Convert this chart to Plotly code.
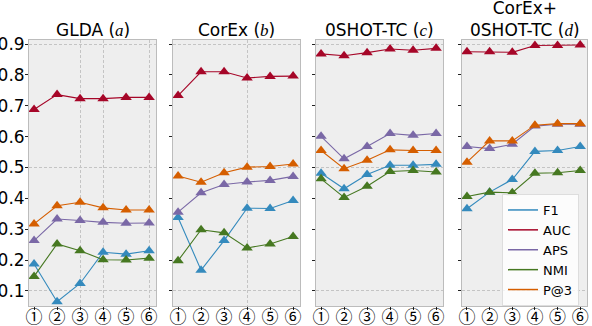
import plotly.graph_objects as go

# x positions (circled labels) and panel titles
steps = [1, 2, 3, 4, 5, 6]
step_labels = ["①", "②", "③", "④", "⑤", "⑥"]
it = '<span style="font-family:Liberation Serif;font-style:italic">%s</span>'
panel_titles = [
    "GLDA (" + it % "a" + ")",
    "CorEx (" + it % "b" + ")",
    "0SHOT-TC (" + it % "c" + ")",
    "CorEx+<br>0SHOT-TC (" + it % "d" + ")",
]

# metric values per panel (a, b, c, d)
f1 = [
    [0.187, 0.065, 0.124, 0.225, 0.219, 0.230],
    [0.338, 0.167, 0.263, 0.368, 0.367, 0.393],
    [0.481, 0.431, 0.477, 0.507, 0.507, 0.510],
    [0.366, 0.420, 0.461, 0.552, 0.555, 0.568],
]
auc = [
    [0.688, 0.736, 0.723, 0.723, 0.727, 0.727],
    [0.733, 0.810, 0.810, 0.790, 0.795, 0.796],
    [0.868, 0.862, 0.872, 0.884, 0.880, 0.886],
    [0.875, 0.875, 0.873, 0.895, 0.895, 0.897],
]
aps = [
    [0.263, 0.333, 0.328, 0.322, 0.319, 0.320],
    [0.355, 0.418, 0.445, 0.453, 0.458, 0.471],
    [0.601, 0.528, 0.568, 0.610, 0.604, 0.610],
    [0.568, 0.561, 0.575, 0.634, 0.640, 0.640],
]
nmi = [
    [0.147, 0.252, 0.230, 0.201, 0.200, 0.206],
    [0.198, 0.298, 0.288, 0.239, 0.252, 0.276],
    [0.463, 0.403, 0.439, 0.487, 0.490, 0.485],
    [0.406, 0.420, 0.418, 0.481, 0.483, 0.490],
]
p_at_3 = [
    [0.317, 0.376, 0.387, 0.369, 0.362, 0.362],
    [0.472, 0.452, 0.483, 0.501, 0.503, 0.511],
    [0.555, 0.496, 0.523, 0.557, 0.555, 0.555],
    [0.517, 0.586, 0.586, 0.637, 0.642, 0.642],
]

# draw order and legend order
metrics = [
    ("F1", f1, "#348ABD"),
    ("AUC", auc, "#A60628"),
    ("APS", aps, "#7A68A6"),
    ("NMI", nmi, "#467821"),
    ("P@3", p_at_3, "#D55E00"),
]

# panel pixel boxes
W, H = 592, 326
panel_px = [(29, 156), (173, 300), (316, 443), (462, 587)]
top_px, bottom_px = 40, 306
# which vertical grid lines survive in each panel of the original
vgrids = [[3, 4, 6], [4], [], []]
grid_style = dict(showgrid=True, griddash="3px,2px", gridcolor="#c4c4c4",
                  gridwidth=0.7, ticks="")

fig = go.Figure()

for i in range(4):
    xa = "x" if i == 0 else f"x{i + 1}"
    ya = "y" if i == 0 else f"y{i + 1}"
    for name, series, color in metrics:
        fig.add_trace(go.Scatter(
            x=steps, y=series[i], xaxis=xa, yaxis=ya,
            mode="lines+markers", name=name,
            line=dict(color=color, width=1.1),
            marker=dict(symbol="triangle-up", size=10, color=color),
            showlegend=False,
        ))

# legend shows plain lines only
for name, series, color in metrics:
    fig.add_trace(go.Scatter(
        x=[None], y=[None], xaxis="x4", yaxis="y4",
        mode="lines", name=name, line=dict(color=color, width=1.5),
    ))

axis_common = dict(
    showline=True, mirror=True, linecolor="#bcbcbc", linewidth=1,
    zeroline=False, showgrid=False, automargin=False,
    ticks="outside", ticklen=3, tickwidth=1, tickcolor="#222",
)

layout = dict(
    width=W, height=H,
    margin=dict(l=0, r=0, t=0, b=0, autoexpand=False),
    paper_bgcolor="white",
    plot_bgcolor="#eeeeee",
    font=dict(family="DejaVu Sans", color="black", size=17),
    legend=dict(
        x=502 / W, y=1 - 194 / H, xanchor="left", yanchor="top",
        bgcolor="rgba(255,255,255,0.8)", bordercolor="#dddddd", borderwidth=1,
        font=dict(size=13), tracegroupgap=0, itemwidth=30,
    ),
    annotations=[],
)

for i, (x0, x1) in enumerate(panel_px):
    suffix = "" if i == 0 else str(i + 1)
    layout["xaxis" + suffix] = dict(
        axis_common,
        domain=[x0 / W, x1 / W],
        range=[0.78, 6.3],
        tickvals=steps, ticktext=step_labels,
        tickfont=dict(size=17, family="Noto Sans CJK JP"),
        ticklabelstandoff=-7,
        minor=dict(grid_style, tickvals=vgrids[i]),
        anchor="y" + suffix,
    )
    layout["yaxis" + suffix] = dict(
        axis_common,
        domain=[1 - bottom_px / H, 1 - top_px / H],
        range=[0.051, 0.913],
        tickvals=[0.1, 0.2, 0.3, 0.4, 0.5, 0.6, 0.7, 0.8, 0.9],
        ticktext=["0.1", "0.2", "0.3", "0.4", "0.5", "0.6", "0.7", "0.8", "0.9"],
        showticklabels=(i == 0),
        tickfont=dict(size=17),
        ticklabelstandoff=-3,
        minor=dict(grid_style, tickvals=[0.1, 0.5, 0.9]),
        anchor="x" + suffix,
    )
    layout["annotations"].append(dict(
        text=panel_titles[i], xref="paper", yref="paper",
        x=(x0 + x1) / 2 / W, y=1 - 42 / H,
        xanchor="center", yanchor="bottom", showarrow=False,
        font=dict(size=17), align="center",
    ))

fig.update_layout(layout)
# the page's default body margin would shift the figure
fig.write_html("out.html", config={"displayModeBar": False},
               post_script="document.body.style.margin='0';")
